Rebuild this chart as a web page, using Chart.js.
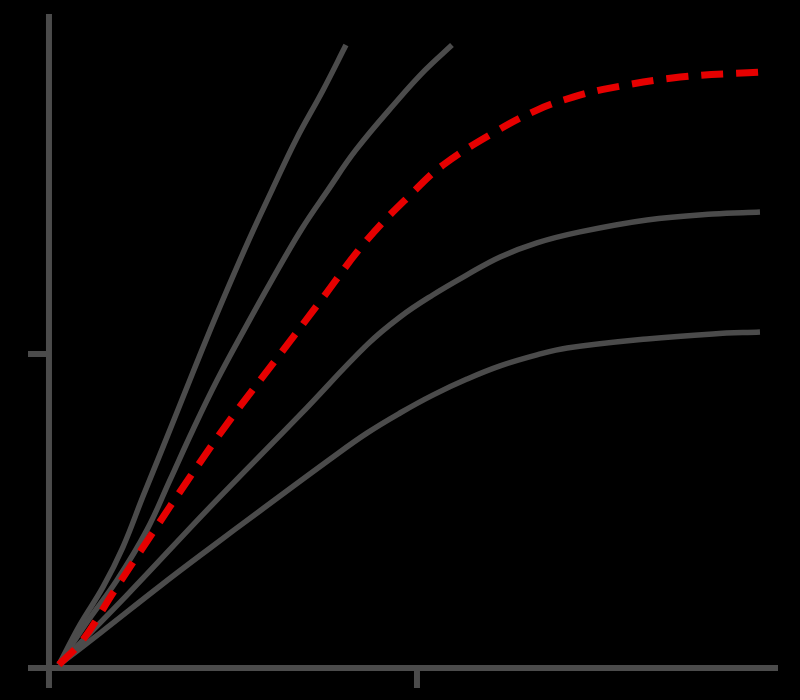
<!DOCTYPE html>
<html>
<head>
<meta charset="utf-8">
<script src="https://cdn.jsdelivr.net/npm/chart.js@4.4.0/dist/chart.umd.min.js"></script>
<style>
  html, body { margin: 0; padding: 0; background: #000; }
  #chart { display: block; }
</style>
</head>
<body>
<canvas id="chart" width="800" height="700"></canvas>
<script>
// Curvas (unidades do gráfico: tick do eixo em 1)
const redX = [0.027, 0.092, 0.174, 0.274, 0.383, 0.492, 0.620, 0.736, 0.864, 0.995, 1.071, 1.207, 1.326, 1.424, 1.524, 1.715, 1.932];
const redY = [0.010, 0.089, 0.239, 0.417, 0.608, 0.790, 0.987, 1.166, 1.363, 1.522, 1.602, 1.704, 1.777, 1.818, 1.847, 1.882, 1.898];

const steepX = [0.027, 0.084, 0.147, 0.201, 0.255, 0.310, 0.372, 0.427, 0.484, 0.543, 0.606, 0.671, 0.745, 0.807];
const steepY = [0.010, 0.137, 0.258, 0.385, 0.545, 0.704, 0.885, 1.045, 1.204, 1.363, 1.522, 1.682, 1.841, 1.984];

const secondX = [0.027, 0.098, 0.185, 0.266, 0.329, 0.391, 0.457, 0.530, 0.606, 0.685, 0.758, 0.834, 0.948, 1.022, 1.095];
const secondY = [0.010, 0.137, 0.280, 0.439, 0.599, 0.758, 0.917, 1.076, 1.236, 1.395, 1.522, 1.650, 1.809, 1.904, 1.984];

const thirdX = [0.027, 0.212, 0.438, 0.682, 0.864, 0.954, 1.043, 1.136, 1.226, 1.326, 1.443, 1.625, 1.804, 1.932];
const thirdY = [0.010, 0.232, 0.513, 0.806, 1.029, 1.118, 1.188, 1.252, 1.309, 1.354, 1.389, 1.427, 1.446, 1.452];

const lowX = [0.027, 0.139, 0.302, 0.438, 0.573, 0.772, 0.864, 0.954, 1.043, 1.136, 1.226, 1.326, 1.408, 1.625, 1.804, 1.932];
const lowY = [0.010, 0.111, 0.261, 0.382, 0.500, 0.672, 0.748, 0.812, 0.869, 0.920, 0.962, 0.997, 1.019, 1.048, 1.064, 1.070];

// Ticks dos eixos (sem rótulos)
const xTicks = [1];
const yTicks = [1];

const gray = '#4b4b4b';
const red = '#e60000';

function toPoints(xs, ys) {
    return xs.map((x, i) => ({ x: x, y: ys[i] }));
}

function curve(xs, ys, color, dashed) {
    return {
        data: toPoints(xs, ys),
        showLine: true,
        borderColor: color,
        borderWidth: dashed ? 7 : 5.5,
        borderDash: dashed ? [22, 13] : [],
        pointRadius: 0,
        fill: false,
        tension: 0.4
    };
}

// Eixos desenhados a partir das escalas
const axesPlugin = {
    id: 'axes',
    beforeDatasetsDraw(chart) {
        const { ctx, chartArea, scales } = chart;
        const x0 = scales.x.getPixelForValue(0);
        const y0 = scales.y.getPixelForValue(0);
        ctx.save();
        ctx.strokeStyle = gray;
        ctx.lineWidth = 6;
        ctx.beginPath();
        ctx.moveTo(x0, chartArea.top);
        ctx.lineTo(x0, chartArea.bottom);
        ctx.moveTo(chartArea.left, y0);
        ctx.lineTo(chartArea.right, y0);
        xTicks.forEach(v => {
            const px = scales.x.getPixelForValue(v);
            ctx.moveTo(px, y0);
            ctx.lineTo(px, chartArea.bottom);
        });
        yTicks.forEach(v => {
            const py = scales.y.getPixelForValue(v);
            ctx.moveTo(chartArea.left, py);
            ctx.lineTo(x0, py);
        });
        ctx.stroke();
        ctx.restore();
    }
};

new Chart(document.getElementById('chart').getContext('2d'), {
    type: 'scatter',
    data: {
        datasets: [
            curve(redX, redY, red, true),
            curve(steepX, steepY, gray, false),
            curve(secondX, secondY, gray, false),
            curve(thirdX, thirdY, gray, false),
            curve(lowX, lowY, gray, false)
        ]
    },
    options: {
        responsive: false,
        animation: false,
        layout: { padding: { left: 28, right: 22, top: 14, bottom: 12 } },
        plugins: { legend: { display: false }, tooltip: { enabled: false } },
        scales: {
            x: { type: 'linear', min: -0.057, max: 1.981, display: false },
            y: { type: 'linear', min: -0.064, max: 2.083, display: false }
        }
    },
    plugins: [axesPlugin]
});
</script>
</body>
</html>
